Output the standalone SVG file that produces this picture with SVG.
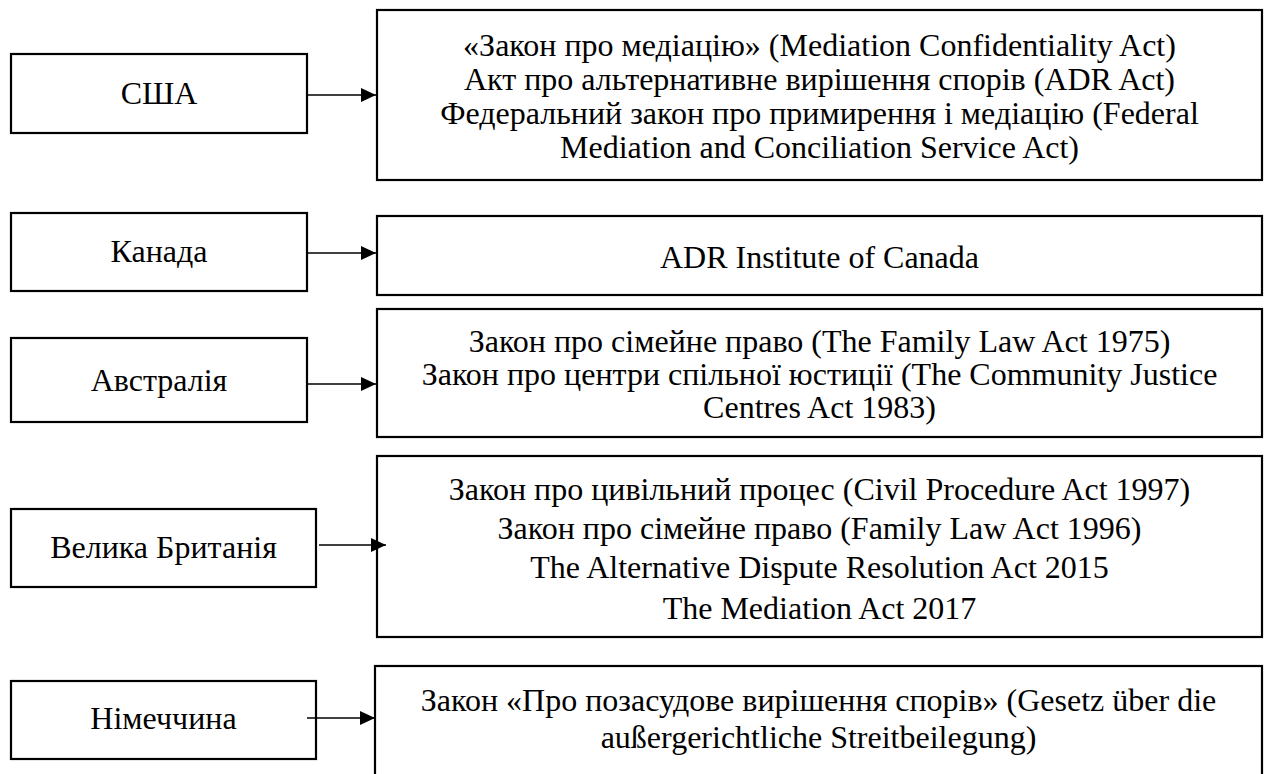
<svg xmlns="http://www.w3.org/2000/svg" width="1266" height="774" viewBox="0 0 1266 774">
<style>
.box{fill:#fff;stroke:#000;stroke-width:2.2}
.t{font-family:"Liberation Serif","Times New Roman",serif;font-size:32px;fill:#000;text-anchor:middle}
.c{stroke:#000;stroke-width:1.3;fill:none;marker-end:url(#ah)}
</style>
<defs>
<marker id="ah" markerUnits="userSpaceOnUse" markerWidth="16" markerHeight="14" refX="15" refY="7" orient="auto">
<path d="M0,0 L15,7 L0,14 Z" fill="#000"/>
</marker>
</defs>
<rect width="1266" height="774" fill="#fff"/>
<g id="usa">
<rect class="box" x="11" y="54" width="296" height="79"/>
<text class="t" x="159" y="104">США</text>
</g>
<g id="usa-laws">
<rect class="box" x="377" y="10" width="885" height="170"/>
<text class="t" x="819.5" y="56">«Закон про медіацію» (Mediation Confidentiality Act)</text>
<text class="t" x="819.5" y="90">Акт про альтернативне вирішення спорів (ADR Act)</text>
<text class="t" x="819.5" y="124">Федеральний закон про примирення і медіацію (Federal</text>
<text class="t" x="819.5" y="158">Mediation and Conciliation Service Act)</text>
</g>
<g id="canada">
<rect class="box" x="11" y="213" width="296" height="78"/>
<text class="t" x="159" y="262">Канада</text>
</g>
<g id="canada-laws">
<rect class="box" x="377" y="216" width="885" height="79"/>
<text class="t" x="819.5" y="268">ADR Institute of Canada</text>
</g>
<g id="australia">
<rect class="box" x="11" y="338" width="296" height="84"/>
<text class="t" x="159" y="391">Австралія</text>
</g>
<g id="australia-laws">
<rect class="box" x="377" y="309" width="885" height="128"/>
<text class="t" x="819.5" y="352">Закон про сімейне право (The Family Law Act 1975)</text>
<text class="t" x="819.5" y="385">Закон про центри спільної юстиції (The Community Justice</text>
<text class="t" x="819.5" y="418">Centres Act 1983)</text>
</g>
<g id="uk">
<rect class="box" x="11" y="509" width="305" height="78"/>
<text class="t" x="163.5" y="558">Велика Британія</text>
</g>
<g id="uk-laws">
<rect class="box" x="377" y="456" width="885" height="181"/>
<text class="t" x="819.5" y="500">Закон про цивільний процес (Civil Procedure Act 1997)</text>
<text class="t" x="819.5" y="539">Закон про сімейне право (Family Law Act 1996)</text>
<text class="t" x="819.5" y="578">The Alternative Dispute Resolution Act 2015</text>
<text class="t" x="819.5" y="619">The Mediation Act 2017</text>
</g>
<g id="germany">
<rect class="box" x="11" y="681" width="305" height="78"/>
<text class="t" x="163.5" y="729">Німеччина</text>
</g>
<g id="germany-laws">
<rect class="box" x="375" y="666" width="887" height="120"/>
<text class="t" x="818.5" y="711">Закон «Про позасудове вирішення спорів» (Gesetz über die</text>
<text class="t" x="818.5" y="748">außergerichtliche Streitbeilegung)</text>
</g>
<g id="connectors">
<line class="c" x1="307" y1="95" x2="376" y2="95"/>
<line class="c" x1="307" y1="253" x2="376" y2="253"/>
<line class="c" x1="307" y1="384" x2="376" y2="384"/>
<line class="c" x1="319" y1="545" x2="386" y2="545"/>
<line class="c" x1="307" y1="718" x2="375" y2="718"/>
</g>
</svg>
